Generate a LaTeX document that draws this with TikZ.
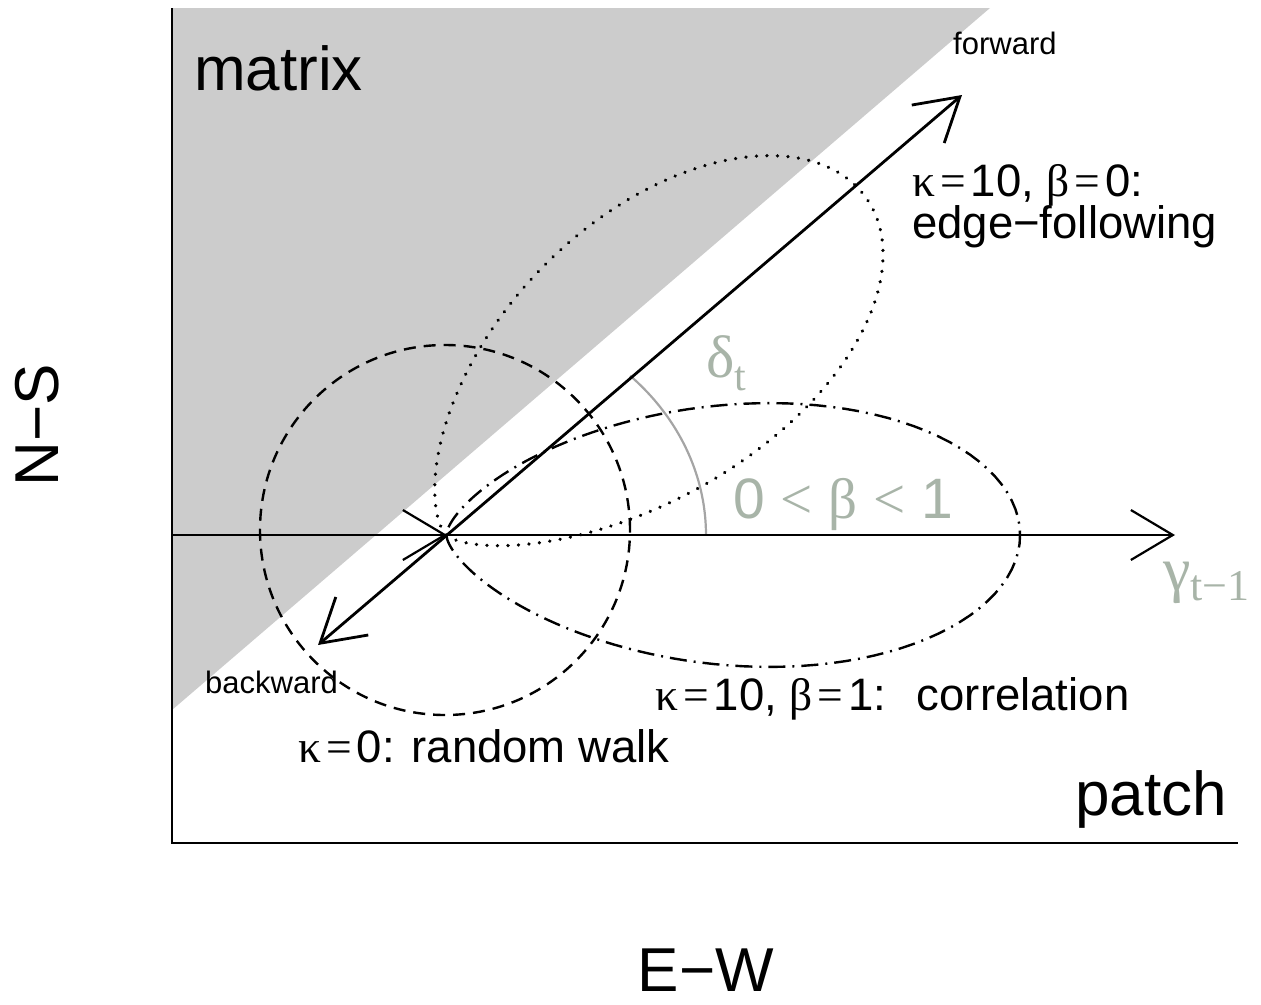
\documentclass[tikz,border=0pt]{standalone}
\usepackage{fontspec}
\setmainfont{Liberation Sans}
\newfontfamily\grk{Liberation Serif}
\usetikzlibrary{arrows.meta}
\definecolor{matrixgray}{RGB}{204,204,204}
\definecolor{annot}{RGB}{168,180,168}
\definecolor{arcgray}{RGB}{165,165,165}
\newcommand{\eqsym}{\hspace{0.11em}{\grk =}\hspace{0.11em}}
\begin{document}
\begin{tikzpicture}[x=1pt,y=-1pt,
  barb/.style={-{Straight Barb[length=42pt,width=50pt]}},
  mainline/.style={line width=2.8pt, black},
  axisline/.style={line width=2.6pt, black},
  biglabel/.style={font=\fontsize{62}{62}\selectfont, inner sep=0pt},
  midlabel/.style={font=\fontsize{45.5}{46}\selectfont, inner sep=0pt},
  smalllabel/.style={font=\fontsize{31}{31}\selectfont, inner sep=0pt},
  annolabel/.style={text=annot, inner sep=0pt},
  dashcircle/.style={line width=2.4pt, dash pattern=on 12pt off 8pt},
  dashdotcurve/.style={line width=2.4pt, dash pattern=on 17pt off 7pt on 2pt off 7pt},
  dotcurve/.style={line width=3.6pt, line cap=round, dash pattern=on 0.01pt off 10.5pt},
  anglearc/.style={line width=2.2pt, arcgray}
]
\useasboundingbox (0,0) rectangle (1261,1004);
% matrix region
\fill[matrixgray] (172,8) -- (990,8) -- (172,710) -- cycle;

% axes
\coordinate (axtop) at (172,8);
\coordinate (axcorner) at (172,843);
\coordinate (axright) at (1238,843);
\draw[axisline] (axtop) -- (axcorner) -- (axright);

% key points
\coordinate (o) at (447,535);
\coordinate (leftend) at (172,535);
\coordinate (gam) at (1175,535);
\coordinate (fwd) at (962,95);
\coordinate (bwd) at (318,645);

% dashed circle: kappa = 0
\draw[dashcircle] (445,530) circle[radius=185pt];

% dash-dot: kappa = 10, beta = 1
\draw[dashdotcurve] plot[domain=-180:180, samples=361, variable=\t]
  ({447 + 573*exp(5*(cos(\t)-1))*cos(\t)}, {535 - 498.5*exp(5*(cos(\t)-1))*sin(\t)});

% dotted: kappa = 10, beta = 0
\draw[dotcurve] plot[domain=-180:180, samples=361, variable=\t]
  ({447 + 573*exp(5*(cos(\t)-1))*cos(\t+45)}, {535 - 498.5*exp(5*(cos(\t)-1))*sin(\t+45)});

% angle arc delta_t
\draw[anglearc] plot[domain=0:45, samples=40, variable=\t]
  ({447 + 259*cos(\t)}, {535 - 225.3*sin(\t)});

% arrows
\draw[line width=2.2pt, barb] (leftend) -- (o);
\draw[line width=2.2pt, barb] (o) -- (gam);
\draw[mainline, barb] (o) -- (fwd);
\draw[mainline, barb] (o) -- (bwd);

% labels
\node[biglabel, anchor=base west] (lmatrix) at (194,90) {matrix};
\node[biglabel, anchor=base west] (lpatch) at (1075,815) {patch};
\node[biglabel, anchor=base, rotate=90] (lns) at (58,425) {N−S};
\node[biglabel, anchor=base] (lew) at (706,991) {E−W};

\node[smalllabel, anchor=base west] (lfwd) at (953,54) {forward};
\node[smalllabel, anchor=base west] (lbwd) at (205,693) {backward};

\node[midlabel, anchor=base west] (ledge1) at (912,196) {{\grk κ}\eqsym 10, {\grk β}\eqsym 0:};
\node[midlabel, anchor=base west] (ledge2) at (912,238) {edge−following};
\node[midlabel, anchor=base west] (lcorr) at (655,710) {{\grk κ}\eqsym 10, {\grk β}\eqsym 1:\hspace{0.3em} correlation};
\node[midlabel, anchor=base west] (lrw) at (298,762) {{\grk κ}\eqsym 0: random walk};

\node[annolabel, anchor=base west, font=\fontsize{60}{60}\selectfont] (ldelta) at (706,377) {{\grk δ}\raisebox{-13pt}{\fontsize{42}{42}\selectfont\grk t}};
\node[annolabel, anchor=base west, font=\fontsize{57}{57}\selectfont] (lbeta) at (733,518) {0 {\grk <} {\grk β} {\grk <} 1};
\node[annolabel, anchor=base west, font=\fontsize{62}{62}\selectfont] (lgamma) at (1163,590) {{\grk γ}\raisebox{-10pt}{\fontsize{44}{44}\selectfont\grk t−1}};
\end{tikzpicture}
\end{document}
